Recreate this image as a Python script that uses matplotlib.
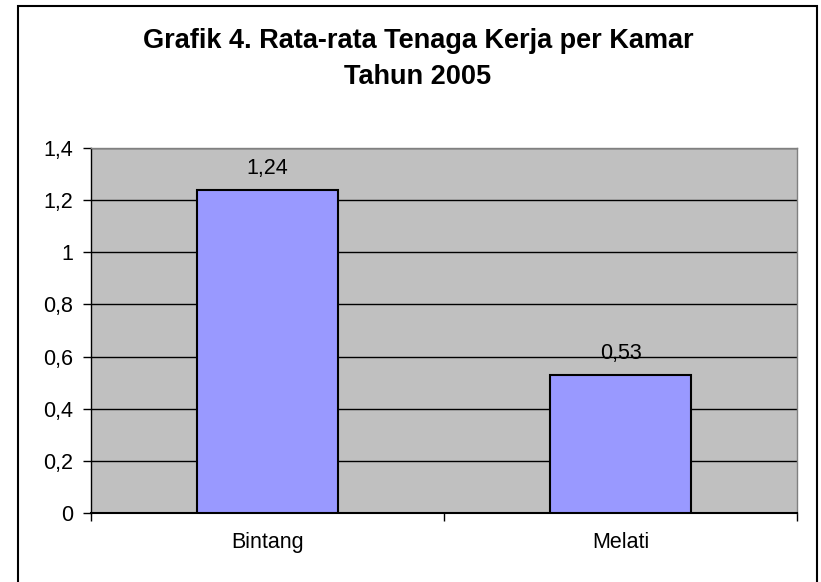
"""Grafik 4. Rata-rata Tenaga Kerja per Kamar, Tahun 2005 (Excel-style bar chart)."""
import matplotlib

matplotlib.use("Agg")
import matplotlib.pyplot as plt  # noqa: E402
from matplotlib.patches import Rectangle  # noqa: E402

plt.rcParams["font.family"] = ["Liberation Sans", "DejaVu Sans"]

categories = ["Bintang", "Melati"]
values = [1.24, 0.53]
value_labels = ["1,24", "0,53"]
yticks = [0, 0.2, 0.4, 0.6, 0.8, 1.0, 1.2, 1.4]
ytick_labels = ["0", "0,2", "0,4", "0,6", "0,8", "1", "1,2", "1,4"]

W, H = 821, 582
FS = 15.5
fig = plt.figure(figsize=(W / 100, H / 100), dpi=100)
fig.patch.set_facecolor("white")

# outer chart frame (bottom edge runs off the image)
fig.patches.append(Rectangle((18 / W, -0.02), (817 - 18) / W, 0.02 + 1 - 6 / H,
                             transform=fig.transFigure, fill=False,
                             edgecolor="black", lw=1.5))

ax = fig.add_axes([91 / W, (H - 513) / H, (797 - 91) / W, (513 - 148) / H])
ax.set_facecolor("#c0c0c0")

x = list(range(len(categories)))
ax.bar(x, values, width=0.4, color="#9999ff", edgecolor="black", lw=1.5, zorder=3)
for xi, v, lab in zip(x, values, value_labels):
    ax.annotate(lab, (xi, v), xytext=(0, 11.5), textcoords="offset points",
                ha="center", va="baseline", fontsize=FS, zorder=4)

ax.set_xlim(-0.5, 1.5)
ax.set_ylim(0, 1.4)
ax.set_yticks(yticks)
ax.set_yticklabels(ytick_labels, fontsize=FS)
ax.set_xticks(x)
ax.set_xticklabels(categories, fontsize=FS)
ax.tick_params(axis="x", length=0, pad=14)
ax.tick_params(axis="y", length=6, width=1, pad=7)
# category boundary ticks
ax.set_xticks([-0.5, 0.5, 1.5], minor=True)
ax.tick_params(axis="x", which="minor", length=6, width=1)
ax.tick_params(axis="y", which="minor", length=0)

for yv in yticks[1:]:
    ax.axhline(yv, color="black", lw=1, zorder=1)

for side in ("top", "right"):
    ax.spines[side].set_color("#808080")
    ax.spines[side].set_linewidth(1)
ax.spines["left"].set_color("black")
ax.spines["bottom"].set_color("black")
ax.spines["left"].set_linewidth(1)
ax.spines["bottom"].set_linewidth(1.5)

fig.text(418 / W, 1 - 48 / H, "Grafik 4. Rata-rata Tenaga Kerja per Kamar",
         ha="center", va="baseline", fontsize=19.5, fontweight="bold")
fig.text(418 / W, 1 - 84 / H, "Tahun 2005",
         ha="center", va="baseline", fontsize=19.5, fontweight="bold")

fig.savefig("out.png", dpi=100)
